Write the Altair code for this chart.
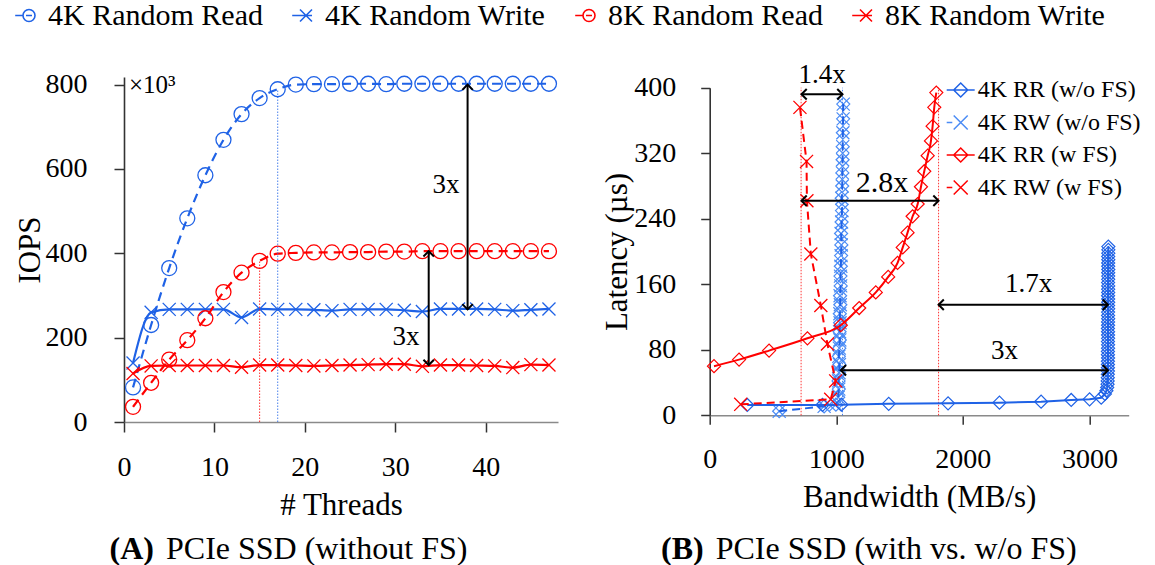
import altair as alt
import pandas as pd

FONT = "Liberation Serif"
BLUE = "#1f62e6"
LBLUE = "#4b8cf5"
RED = "#ff0000"
BLACK = "#000000"

# ---------------- Panel A: IOPS vs. threads ----------------
threads = [1, 3, 5, 7, 9, 11, 13, 15, 17, 19, 21, 23, 25, 27, 29, 31, 33, 35, 37, 39, 41, 43, 45, 47]
iops_4k_read = [82, 230, 365, 483, 585, 669, 730, 768, 789, 800, 801, 801, 802, 802, 801, 802, 802, 802, 802, 802, 802, 802, 802, 802]
iops_4k_write = [140, 260, 267, 267, 267, 267, 248, 268, 267, 267, 266, 264, 267, 267, 267, 265, 262, 268, 268, 268, 267, 264, 266, 268]
iops_8k_read = [36, 93, 148, 194, 246, 308, 354, 382, 399, 401, 402, 402, 403, 403, 404, 404, 405, 405, 405, 405, 405, 405, 405, 405]
iops_8k_write = [115, 133, 134, 134, 134, 134, 130, 135, 135, 134, 133, 134, 135, 136, 137, 137, 132, 135, 135, 134, 133, 129, 136, 135]
series_a = ["4K Random Read", "4K Random Write", "8K Random Read", "8K Random Write"]

a_guide_blue_threads = [17]
a_guide_blue_top = [789]
a_guide_red_threads = [15]
a_guide_red_top = [382]
a_arrow_threads = [38, 33.7]
a_arrow_top = [800, 405]
a_arrow_bottom = [267, 135]
a_label_threads = [35.6, 31.2]
a_label_iops = [562, 201]
a_label_text = ["3x", "3x"]
a_note_threads = [0.55]
a_note_iops = [800]
a_note_text = ["×10³"]
caption_a = ["(A)", "PCIe SSD (without FS)"]

# ---------------- Panel B: latency vs. bandwidth ----------------
series_b = ["4K RR (w/o FS)", "4K RW (w/o FS)", "4K RR (w FS)", "4K RW (w FS)"]
bw_rr_wo_floor = [297, 891, 1040, 1414, 1883, 2289, 2618, 2856, 3001, 3093]
lat_rr_wo_floor = [12.6, 12.6, 13, 14, 14.6, 15.4, 16.6, 18.7, 19.5, 21.5]
bw_rr_wo_knee = [3122, 3134, 3140, 3143, 3144, 3145, 3145, 3146, 3146, 3146,
                 3146, 3147, 3146, 3146, 3147, 3147, 3146, 3147, 3147, 3147,
                 3146, 3147, 3147, 3148, 3147, 3147, 3148, 3147, 3148, 3148,
                 3147, 3148, 3148, 3148, 3147, 3148, 3148, 3148, 3149, 3148,
                 3148, 3149, 3148, 3149, 3149, 3149]
lat_rr_wo_knee = [26, 30, 34, 38, 42, 46, 50, 54, 58, 62,
                  66, 70, 74, 78, 82, 86, 90, 94, 98, 102,
                  106, 110, 114, 118, 122, 126, 130, 134, 138, 142,
                  146, 150, 154, 158, 162, 166, 170, 174, 178, 182,
                  186, 190, 194, 198, 202, 206]
bw_rw_wo = [549, 904, 997, 1015, 1020, 1018, 1022, 1025, 1020, 1024,
            1028, 1026, 1030, 1028, 1032, 1030, 1035, 1033, 1036, 1038,
            1040, 1038, 1042, 1045, 1043, 1047, 1048, 1050, 1051, 1052,
            1054, 1055]
lat_rw_wo = [5, 11, 13, 22, 32, 42, 52, 62, 72, 82,
             92, 102, 113, 124, 135, 146, 158, 170, 182, 195,
             208, 222, 236, 250, 265, 280, 296, 312, 328, 345,
             362, 380]
bw_rr_w = [34, 232, 469, 772, 1036, 1181, 1312, 1410, 1484, 1525,
           1563, 1603, 1643, 1669, 1695, 1722, 1748, 1761, 1774, 1790]
lat_rr_w = [60, 68, 79, 94, 110, 131, 150, 169, 186, 205,
            223, 243, 258, 279, 298, 317, 335, 353, 376, 394]
bw_rw_w = [245, 956, 995, 930, 878, 799, 768, 765, 713]
lat_rw_w = [13.4, 19.5, 42, 87, 134, 197, 262, 310, 376]

b_guide_red_bw = [722, 1808]
b_guide_blue_bw = [1049]
b_guide_top = 400
b_arrow_lat = [392, 262, 135, 55]
b_arrow_from = [725, 725, 1808, 1036]
b_arrow_to = [1049, 1808, 3146, 3146]
b_label_bw = [888, 2520, 2328]
b_label_lat = [416, 160, 78.5]
b_label_text = ["1.4x", "1.7x", "3x"]
b_big_label_bw = [1362]
b_big_label_lat = [284]
b_big_label_text = ["2.8x"]
caption_b = ["(B)", "PCIe SSD (with vs. w/o FS)"]

# ---------------- shapes ----------------
XPATH = "M-1,-1L1,1M-1,1L1,-1"
HEAD = "M-1,1L0,0L1,1"
LEG_CIRCLE = "M-2.3,0L-1,0M-1,0A1,1 0 1,0 1,0A1,1 0 1,0 -1,0M-0.5,0L0.5,0"
LEG_X = "M-2.3,0L1,0M-1,-1L1,1M-1,1L1,-1"
LEG_DIAMOND = "M-2,0L2,0M0,-1L1,0L0,1L-1,0Z"
LEG_XD = "M-2,0L-1.2,0M-1,-1L1,1M-1,1L1,-1"


def make_axis(values, title, tick, lpad, tpad, domain_color, fmt=None):
    kw = dict(values=values, title=title, tickSize=tick, labelPadding=lpad, titlePadding=tpad,
              labelFont=FONT, labelFontSize=28, labelColor=BLACK, titleFont=FONT, titleFontSize=31,
              titleFontWeight="normal", titleColor=BLACK, grid=False, labelFlush=False,
              labelOverlap=False, tickColor="#333333", tickWidth=1.5, domainColor=domain_color,
              domainWidth=1.6)
    if fmt:
        kw["format"] = fmt
    return alt.Axis(**kw)


# ====== Panel A layers ======
dfa = pd.DataFrame([{"series": s, "threads": t, "iops": v}
                    for s, vals in zip(series_a, [iops_4k_read, iops_4k_write, iops_8k_read, iops_8k_write])
                    for t, v in zip(threads, vals)])
baseA = alt.Chart(dfa)
xA_main = alt.X("threads:Q", scale=alt.Scale(domain=[0, 48], nice=False, zero=False),
                axis=make_axis([0, 10, 20, 30, 40], "# Threads", 10, 21, 9, "#8a8a8a"))
yA_main = alt.Y("iops:Q", scale=alt.Scale(domain=[0, 818], nice=False),
                axis=make_axis([0, 200, 400, 600, 800], "IOPS", 10, 27, -1, "#333333"))
xA = alt.X("threads:Q")
yA = alt.Y("iops:Q")

layersA = []
styleA = {series_a[0]: (BLUE, [9, 6], "circle"), series_a[1]: (BLUE, None, XPATH),
          series_a[2]: (RED, [9, 6], "circle"), series_a[3]: (RED, None, XPATH)}
first = True
for name in series_a:
    color, dash, shape = styleA[name]
    kw = dict(color=color, strokeWidth=2.2, interpolate="monotone")
    if dash:
        kw["strokeDash"] = dash
    sub = baseA.transform_filter(alt.datum.series == name)
    layersA.append(sub.mark_line(**kw).encode(x=xA_main if first else xA, y=yA_main if first else yA))
    first = False
    layersA.append(sub.mark_point(shape=shape, size=225 if shape == "circle" else 170, filled=False,
                                  color=color, strokeWidth=1.3, opacity=1).encode(x=xA, y=yA))

gb = pd.DataFrame({"threads": a_guide_blue_threads, "iops": [0] * len(a_guide_blue_threads), "iops2": a_guide_blue_top})
gr = pd.DataFrame({"threads": a_guide_red_threads, "iops": [0] * len(a_guide_red_threads), "iops2": a_guide_red_top})
layersA.append(alt.Chart(gb).mark_rule(color=BLUE, strokeWidth=1, strokeDash=[1.5, 1.5], opacity=0.8)
               .encode(x=xA, y=yA, y2="iops2:Q"))
layersA.append(alt.Chart(gr).mark_rule(color=RED, strokeWidth=1, strokeDash=[1.5, 1.5], opacity=0.8)
               .encode(x=xA, y=yA, y2="iops2:Q"))

arrA = pd.DataFrame({"threads": a_arrow_threads, "iops": a_arrow_bottom, "iops2": a_arrow_top})
layersA.append(alt.Chart(arrA).mark_rule(color=BLACK, strokeWidth=2).encode(x=xA, y=yA, y2="iops2:Q"))
layersA.append(alt.Chart(arrA).mark_point(shape=HEAD, size=110, filled=False, color=BLACK, strokeWidth=2, opacity=1)
               .encode(x=xA, y=alt.Y("iops2:Q")))
layersA.append(alt.Chart(arrA).mark_point(shape=HEAD, angle=180, size=110, filled=False, color=BLACK, strokeWidth=2, opacity=1)
               .encode(x=xA, y=yA))
labA = pd.DataFrame({"threads": a_label_threads, "iops": a_label_iops, "text": a_label_text})
layersA.append(alt.Chart(labA).mark_text(font=FONT, fontSize=27, color=BLACK, baseline="middle")
               .encode(x=xA, y=yA, text="text:N"))
noteA = pd.DataFrame({"threads": a_note_threads, "iops": a_note_iops, "text": a_note_text})
layersA.append(alt.Chart(noteA).mark_text(font=FONT, fontSize=25, color=BLACK, align="left", baseline="middle")
               .encode(x=xA, y=yA, text="text:N"))

capA = pd.DataFrame({"bold": [caption_a[0]], "rest": [caption_a[1]]})
layersA.append(alt.Chart(capA).mark_text(font=FONT, fontSize=32, fontWeight="bold", align="right", baseline="middle", color=BLACK)
               .encode(text="bold:N", x=alt.value(30), y=alt.value(472)))
layersA.append(alt.Chart(capA).mark_text(font=FONT, fontSize=32, align="left", baseline="middle", color=BLACK)
               .encode(text="rest:N", x=alt.value(42), y=alt.value(472)))

legA = alt.Legend(title=None, orient="none", legendX=-110, legendY=-76.5, direction="horizontal", columns=4,
                  columnPadding=26, labelFont=FONT, labelFontSize=30, labelColor=BLACK, symbolSize=144,
                  symbolStrokeWidth=1.6, labelOffset=4, padding=0, labelLimit=500)
layersA.append(baseA.transform_filter("false").mark_point(filled=False, strokeWidth=1.6, opacity=1).encode(
    x=xA, y=yA,
    color=alt.Color("series:N", scale=alt.Scale(domain=series_a, range=[BLUE, BLUE, RED, RED]), legend=legA),
    shape=alt.Shape("series:N", scale=alt.Scale(domain=series_a, range=[LEG_CIRCLE, LEG_X, LEG_CIRCLE, LEG_X]), legend=legA)))

panelA = alt.layer(*layersA).properties(width=434, height=345)

# ====== Panel B layers ======
def series_df(name, bws, lats):
    return pd.DataFrame({"series": name, "bw": bws, "lat": lats, "idx": list(range(len(bws)))})

dfb = pd.concat([
    series_df(series_b[0], bw_rr_wo_floor + bw_rr_wo_knee, lat_rr_wo_floor + lat_rr_wo_knee),
    series_df(series_b[1], bw_rw_wo, lat_rw_wo),
    series_df(series_b[2], bw_rr_w, lat_rr_w),
    series_df(series_b[3], bw_rw_w, lat_rw_w),
], ignore_index=True)
baseB = alt.Chart(dfb)
xB_main = alt.X("bw:Q", scale=alt.Scale(domain=[0, 3310], nice=False, zero=False),
                axis=make_axis([0, 1000, 2000, 3000], "Bandwidth (MB/s)", 9, 21, 9, "#8a8a8a", fmt="d"))
yB_main = alt.Y("lat:Q", scale=alt.Scale(domain=[0, 400], nice=False, range=[338.3, 10.7]),
                axis=make_axis([0, 80, 160, 240, 320, 400], "Latency (µs)", 9, 25, 0, "#333333"))
xB = alt.X("bw:Q")
yB = alt.Y("lat:Q")
orderB = alt.Order("idx:Q")

layersB = []
gbr = pd.DataFrame({"bw": b_guide_red_bw, "lat": [0] * len(b_guide_red_bw), "lat2": [b_guide_top] * len(b_guide_red_bw)})
gbb = pd.DataFrame({"bw": b_guide_blue_bw, "lat": [0] * len(b_guide_blue_bw), "lat2": [b_guide_top] * len(b_guide_blue_bw)})
layersB.append(alt.Chart(gbr).mark_rule(color=RED, strokeWidth=1, strokeDash=[1.5, 1.5], opacity=0.8)
               .encode(x=xB_main, y=yB_main, y2="lat2:Q"))
layersB.append(alt.Chart(gbb).mark_rule(color=BLUE, strokeWidth=1, strokeDash=[1.5, 1.5], opacity=0.8)
               .encode(x=xB, y=yB, y2="lat2:Q"))

def subB(name):
    return baseB.transform_filter(alt.datum.series == name)

# 4K RW (w/o FS): light-blue column of markers, dashed line
layersB.append(subB(series_b[1]).mark_point(shape="diamond", size=170, filled=False, color=LBLUE, strokeWidth=1.2, opacity=1)
               .encode(x=xB, y=yB))
layersB.append(subB(series_b[1]).mark_point(shape=XPATH, size=170, filled=False, color=LBLUE, strokeWidth=1.2, opacity=1)
               .encode(x=xB, y=yB))
layersB.append(subB(series_b[1]).mark_line(color=BLUE, strokeWidth=2, strokeDash=[8, 5]).encode(x=xB, y=yB, order=orderB))
# 4K RR (w/o FS)
layersB.append(subB(series_b[0]).mark_point(shape="diamond", size=170, filled=False, color=BLUE, strokeWidth=1.2, opacity=1)
               .encode(x=xB, y=yB))
layersB.append(subB(series_b[0]).mark_line(color=BLUE, strokeWidth=2).encode(x=xB, y=yB, order=orderB))
# 4K RR (w FS)
layersB.append(subB(series_b[2]).mark_point(shape="diamond", size=170, filled=False, color=RED, strokeWidth=1.2, opacity=1)
               .encode(x=xB, y=yB))
layersB.append(subB(series_b[2]).mark_line(color=RED, strokeWidth=2, interpolate="monotone").encode(x=xB, y=yB, order=orderB))
# 4K RW (w FS)
layersB.append(subB(series_b[3]).mark_point(shape=XPATH, size=170, filled=False, color=RED, strokeWidth=1.3, opacity=1)
               .encode(x=xB, y=yB))
layersB.append(subB(series_b[3]).mark_line(color=RED, strokeWidth=2, strokeDash=[8, 5]).encode(x=xB, y=yB, order=orderB))

arrB = pd.DataFrame({"lat": b_arrow_lat, "bw": b_arrow_from, "bw2": b_arrow_to})
layersB.append(alt.Chart(arrB).mark_rule(color=BLACK, strokeWidth=2).encode(y=yB, x=xB, x2="bw2:Q"))
layersB.append(alt.Chart(arrB).mark_point(shape=HEAD, angle=270, size=110, filled=False, color=BLACK, strokeWidth=2, opacity=1)
               .encode(x=xB, y=yB))
layersB.append(alt.Chart(arrB).mark_point(shape=HEAD, angle=90, size=110, filled=False, color=BLACK, strokeWidth=2, opacity=1)
               .encode(x=alt.X("bw2:Q"), y=yB))
labB = pd.DataFrame({"bw": b_label_bw, "lat": b_label_lat, "text": b_label_text})
layersB.append(alt.Chart(labB).mark_text(font=FONT, fontSize=27, color=BLACK, baseline="middle")
               .encode(x=xB, y=yB, text="text:N"))
labB2 = pd.DataFrame({"bw": b_big_label_bw, "lat": b_big_label_lat, "text": b_big_label_text})
layersB.append(alt.Chart(labB2).mark_text(font=FONT, fontSize=30, color=BLACK, baseline="middle")
               .encode(x=xB, y=yB, text="text:N"))

capB = pd.DataFrame({"bold": [caption_b[0]], "rest": [caption_b[1]]})
layersB.append(alt.Chart(capB).mark_text(font=FONT, fontSize=32, fontWeight="bold", align="right", baseline="middle", color=BLACK)
               .encode(text="bold:N", x=alt.value(-6), y=alt.value(472)))
layersB.append(alt.Chart(capB).mark_text(font=FONT, fontSize=32, align="left", baseline="middle", color=BLACK)
               .encode(text="rest:N", x=alt.value(6), y=alt.value(472)))

legB = alt.Legend(title=None, orient="none", legendX=239, legendY=1, direction="vertical",
                  labelFont=FONT, labelFontSize=24, labelColor=BLACK, symbolSize=196,
                  symbolStrokeWidth=1.5, labelOffset=5, rowPadding=8.5, padding=0, labelLimit=500)
layersB.append(baseB.transform_filter("false").mark_point(filled=False, strokeWidth=1.5, opacity=1).encode(
    x=xB, y=yB,
    color=alt.Color("series:N", scale=alt.Scale(domain=series_b, range=[BLUE, LBLUE, RED, RED]), legend=legB),
    shape=alt.Shape("series:N", scale=alt.Scale(domain=series_b, range=[LEG_DIAMOND, LEG_XD, LEG_DIAMOND, LEG_XD]), legend=legB)))

panelB = alt.layer(*layersB).properties(width=419, height=338.3)

chart = (alt.hconcat(panelA, panelB, spacing=151.7, bounds="flush")
         .resolve_scale(color="independent", shape="independent", x="independent", y="independent")
         .configure_view(strokeWidth=0)
         .properties(padding={"left": 14, "top": 0, "right": 0, "bottom": 0}, background="white"))

chart.save("out.html", embed_options={"renderer": "svg", "actions": False})
